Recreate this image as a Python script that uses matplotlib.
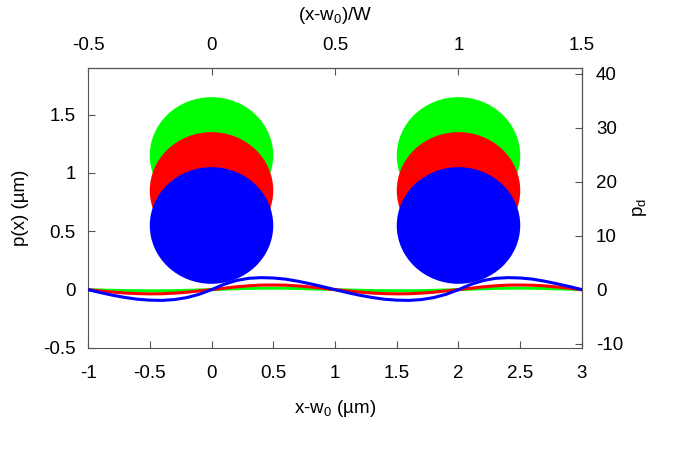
import numpy as np
import matplotlib
matplotlib.use("Agg")
import matplotlib.pyplot as plt
from matplotlib.patches import Ellipse

plt.rcParams['font.family'] = ['Liberation Sans', 'DejaVu Sans']
plt.rcParams['mathtext.default'] = 'regular'

# one period of each curve (x from -1 to 1), repeated for 1..3
x_period = [-1.0, -0.9, -0.8, -0.7, -0.6, -0.5, -0.4, -0.3, -0.2, -0.1, 0.0,
            0.1, 0.2, 0.3, 0.4, 0.5, 0.6, 0.7, 0.8, 0.9, 1.0]
blue_p = [0.0, -0.025, -0.048, -0.067, -0.082, -0.090, -0.092, -0.085, -0.068, -0.040, 0.0,
          0.045, 0.078, 0.097, 0.103, 0.100, 0.090, 0.072, 0.050, 0.026, 0.0]
red_p = [0.0, -0.011, -0.021, -0.029, -0.034, -0.036, -0.035, -0.030, -0.022, -0.011, 0.0,
         0.012, 0.024, 0.033, 0.039, 0.040, 0.038, 0.032, 0.023, 0.012, 0.0]
green_p = [0.0, -0.003, -0.006, -0.008, -0.009, -0.010, -0.010, -0.009, -0.006, -0.003, 0.0,
           0.004, 0.008, 0.011, 0.012, 0.013, 0.012, 0.010, 0.007, 0.004, 0.0]

circle_x = [0.0, 2.0]
circle_y = {'#00ff00': 1.15, '#ff0000': 0.85, '#0000ff': 0.55}
circle_d = 1.0

x_all = list(x_period) + [v + 2 for v in x_period[1:]]
def rep(a):
    return list(a) + list(a[1:])

FS = 13.5
fig = plt.figure(figsize=(6.75, 4.5), dpi=100)
ax = fig.add_axes([0.1304, 0.2267, 0.7318, 0.6222])

for col, cy in circle_y.items():
    for cx in circle_x:
        ax.add_patch(Ellipse((cx, cy), circle_d, circle_d, facecolor=col, edgecolor='none', zorder=2))

for vals, col in [(green_p, '#00ff00'), (red_p, '#ff0000'), (blue_p, '#0000ff')]:
    ax.plot(x_all, rep(vals), color=col, lw=2.2, zorder=3)

ax.set_xlim(-1, 3)
ax.set_ylim(-0.5, 1.9)
ax.set_xticks(np.arange(-1, 3.01, 0.5))
ax.set_xticklabels(['-1', '-0.5', '0', '0.5', '1', '1.5', '2', '2.5', '3'])
ax.set_yticks([-0.5, 0, 0.5, 1, 1.5])
ax.set_yticklabels(['-0.5', '0', '0.5', '1', '1.5'])
ax.tick_params(direction='in', length=5, labelsize=FS, color='#555555')
ax.tick_params(axis='x', top=False, pad=12)
ax.tick_params(axis='y', pad=9)
for s in ax.spines.values():
    s.set_color('#555555')
ax.set_xlabel('x-w$_0$ (µm)', fontsize=FS, labelpad=12)
ax.set_ylabel('p(x) (µm)', fontsize=FS, labelpad=10)

top = ax.secondary_xaxis('top', functions=(lambda x: x / 2, lambda t: t * 2))
top.set_xticks([-0.5, 0, 0.5, 1, 1.5])
top.set_xticklabels(['-0.5', '0', '0.5', '1', '1.5'])
top.tick_params(direction='in', length=5, labelsize=FS, color='#555555', pad=10)
top.set_xlabel('(x-w$_0$)/W', fontsize=FS, labelpad=12)

k = 21.6
right = ax.secondary_yaxis('right', functions=(lambda y: y * k, lambda d: d / k))
right.set_yticks([-10, 0, 10, 20, 30, 40])
right.set_yticklabels(['-10', '0', '10', '20', '30', '40'])
right.tick_params(direction='in', length=5, labelsize=FS, color='#555555', pad=10)
right.set_ylabel('p$_d$', fontsize=FS, labelpad=6)

fig.savefig('out.png', dpi=100)
